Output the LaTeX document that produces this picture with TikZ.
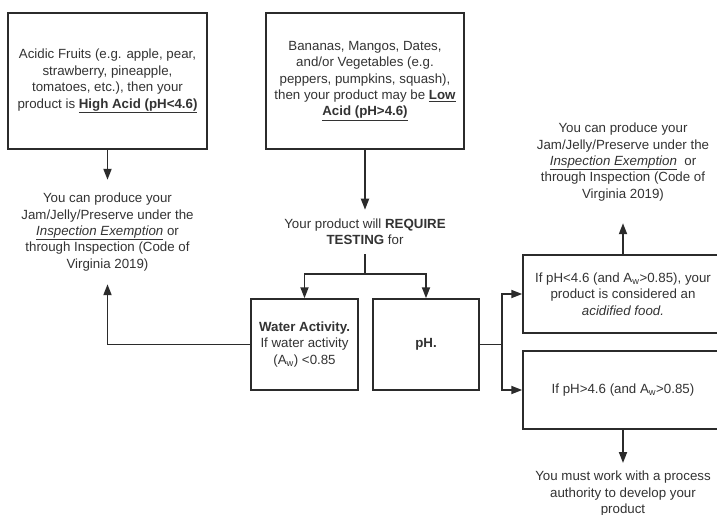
\documentclass[tikz,border=0pt]{standalone}
\usepackage{fontspec}
\setmainfont{Liberation Sans}
\usetikzlibrary{arrows.meta}
\definecolor{ink}{HTML}{333333}
\definecolor{edge}{HTML}{2B2B2B}
\newcommand{\Aw}{A\textsubscript{w}}
\tikzset{
  base/.style={font=\fontsize{13.3}{16.4}\selectfont, text=ink, align=center},
  box/.style={base, draw=edge, line width=1.5pt, rectangle, inner sep=0pt},
  txt/.style={base, inner xsep=0pt},
  arr/.style={draw=edge, line width=1.8pt, -{Triangle[length=11pt,width=8pt]}},
  ln/.style={draw=edge, line width=1.8pt}
}
\begin{document}
\begin{tikzpicture}[x=1pt,y=-1pt]
\useasboundingbox (0,0) rectangle (717,514);
\fill[white] (0,0) rectangle (717,514);

\node[box, minimum width=199pt, minimum height=136pt] (b1) at (107.5,81)
  {Acidic Fruits (e.g. apple, pear,\\ strawberry, pineapple,\\ tomatoes, etc.), then your\\ product is \underline{\textbf{High Acid (pH<4.6)}}};
\node[box, minimum width=198pt, minimum height=136pt] (b2) at (365,81)
  {Bananas, Mangos, Dates,\\ and/or Vegetables (e.g.\\ peppers, pumpkins, squash),\\ then your product may be \underline{\textbf{Low}}\\ \underline{\textbf{Acid (pH>4.6)}}};

\node[txt, inner ysep=13pt] (t1) at (107.5,232)
  {You can produce your\\ Jam/Jelly/Preserve under the\\ \underline{\textit{Inspection Exemption}} or\\ through Inspection (Code of\\ Virginia 2019)};
\node[txt, inner ysep=9pt] (t2) at (365,232)
  {Your product will \textbf{REQUIRE}\\ \textbf{TESTING} for};

\node[box, minimum width=107pt, minimum height=91pt] (wa) at (304.5,344.5)
  {\textbf{Water Activity.}\\ If water activity\\ (\Aw) <0.85};
\node[box, minimum width=106pt, minimum height=91pt] (ph) at (426,344.5)
  {\textbf{pH.}};

\node[box, minimum width=200pt, minimum height=78pt] (b3) at (623,294)
  {If pH<4.6 (and \Aw>0.85), your\\ product is considered an\\ \textit{acidified food.}};
\node[box, minimum width=200pt, minimum height=78pt] (b4) at (623,390)
  {If pH>4.6 (and \Aw>0.85)};

\node[txt, inner ysep=0pt] (t3) at (623,162)
  {You can produce your\\ Jam/Jelly/Preserve under the\\ \underline{\textit{Inspection Exemption}}\ \ or\\ through Inspection (Code of\\ Virginia 2019)};
\node[txt, inner ysep=0pt, anchor=north] (t4) at (623,471)
  {You must work with a process\\ authority to develop your\\ product};

% connectors
\draw[arr] (b1.south) -- (t1.north);
\draw[arr] (b2.south) -- (t2.north);
\draw[ln] (t2.south) -- ++(0,20) coordinate (split);
\draw[arr] (split) -| (wa.north);
\draw[arr] (split) -| (ph.north);
\draw[arr] (wa.west) -| (t1.south);
\draw[ln] (ph.east) -- ++(22,0) coordinate (fork);
\draw[arr] (fork) |- (b3.west);
\draw[arr] (fork) |- (b4.west);
\draw[arr] (b3.north) -- ([yshift=-22pt]t3.south);
\draw[arr] (b4.south) -- ([yshift=8pt]t4.north);
\end{tikzpicture}
\end{document}
